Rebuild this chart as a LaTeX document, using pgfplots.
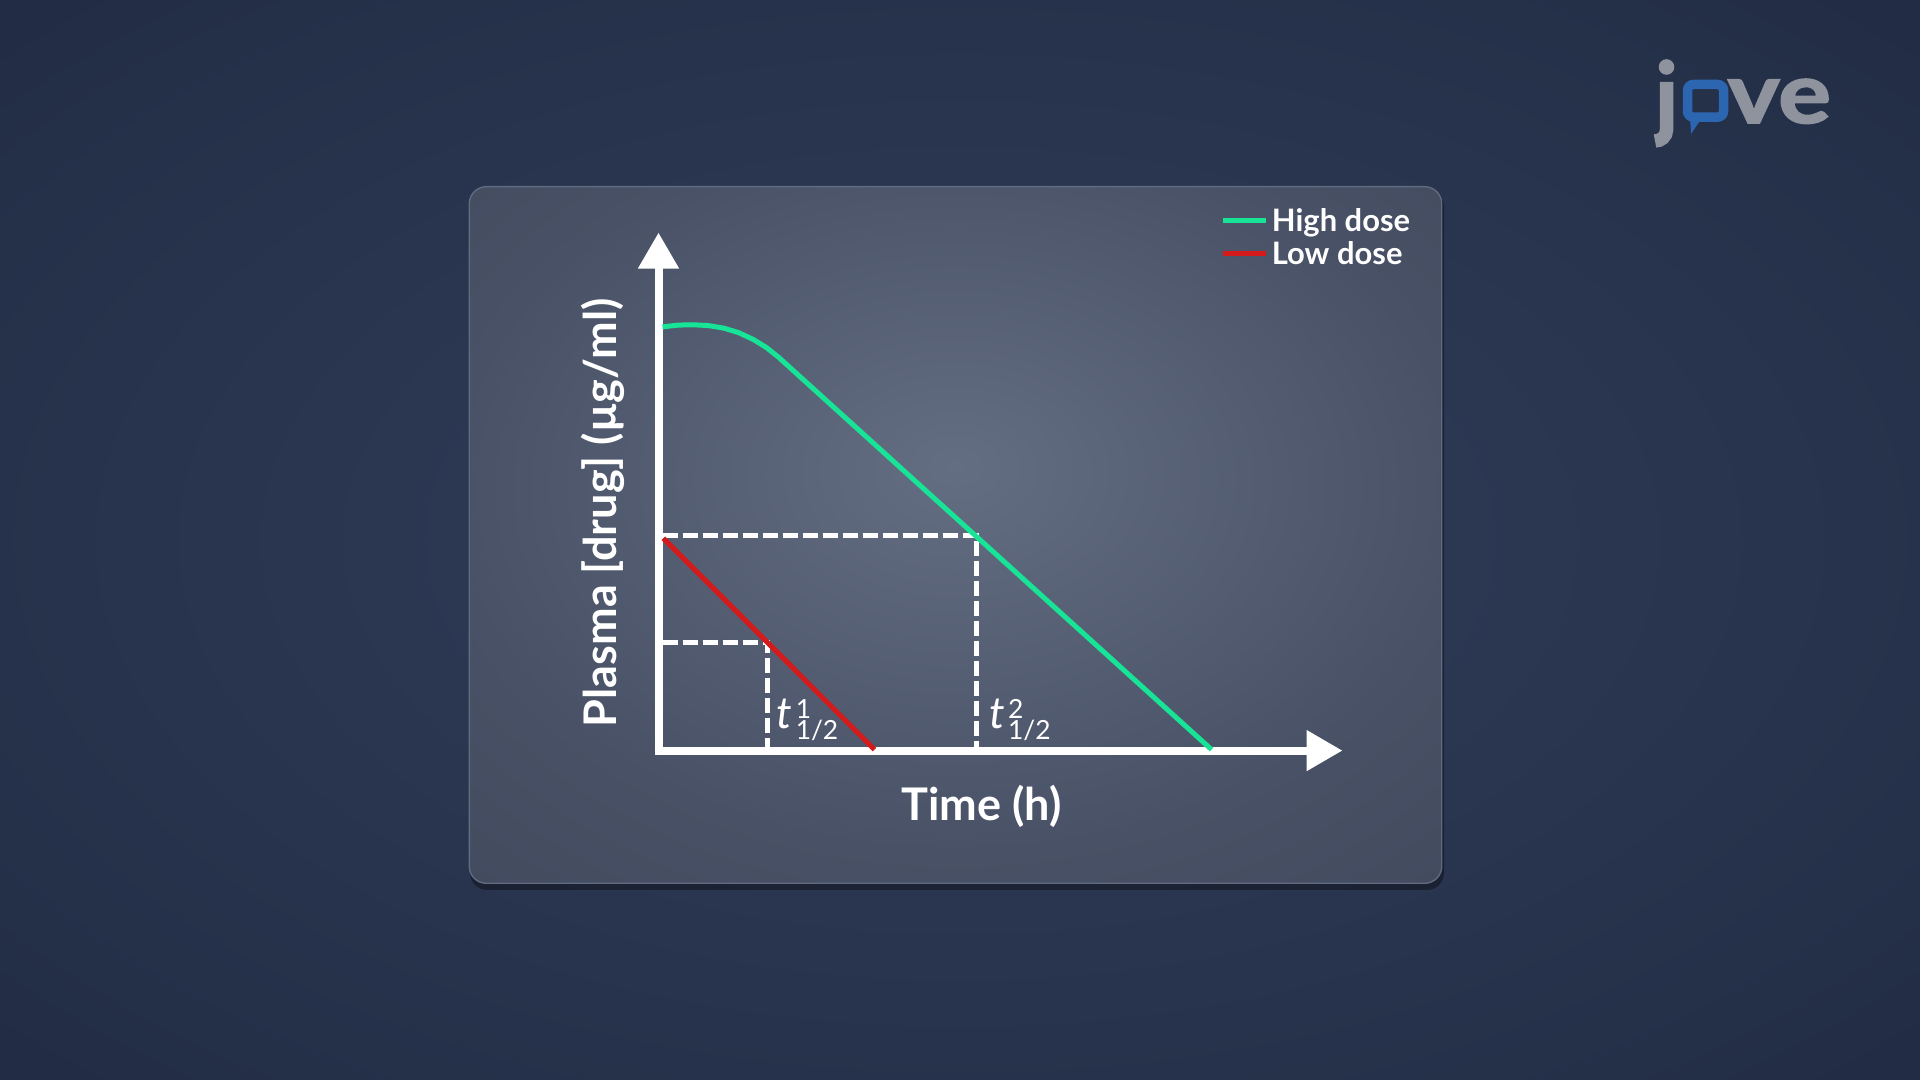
\documentclass[border=0pt]{standalone}
\usepackage{fontspec}
\setmainfont{Lato}
\newfontfamily\logofont[FakeBold=2]{Lato}
\usepackage{pgfplots}
\pgfplotsset{compat=1.18}
\usetikzlibrary{arrows.meta}

\definecolor{hidose}{RGB}{24,228,152}
\definecolor{lodose}{RGB}{212,26,26}
\definecolor{bgin}{RGB}{50,62,90}
\definecolor{bgmid}{RGB}{36,47,72}
\definecolor{bgout}{RGB}{18,24,40}
\definecolor{pin}{RGB}{100,110,130}
\definecolor{pmid}{RGB}{72,81,101}
\definecolor{pout}{RGB}{50,57,76}
\definecolor{pborder}{RGB}{96,106,128}
\definecolor{logogray}{RGB}{142,147,158}
\definecolor{logoblue}{RGB}{44,102,176}

\pgfdeclareradialshading{bgshade}{\pgfpoint{0bp}{0bp}}{color(0bp)=(bgin); color(30bp)=(bgmid); color(71bp)=(bgout)}
\pgfdeclareradialshading{panelshade}{\pgfpoint{0bp}{5bp}}{color(0bp)=(pin); color(26bp)=(pmid); color(71bp)=(pout)}

% t_{1/2} label with a superscript index
\newcommand{\thalf}[1]{{\fontsize{12.5}{14}\selectfont\itshape t}\kern0.35mm%
  \rlap{\raisebox{0.95mm}{\fontsize{7.5}{8}\selectfont #1}}%
  \raisebox{-1.15mm}{\fontsize{7.5}{8}\selectfont 1/2}}

\begin{document}
\begin{tikzpicture}
\path[use as bounding box] (0,0) rectangle (19.2,10.8);
\shade[shading=bgshade] (0,0) rectangle (19.2,10.8);

% panel
\fill[black, opacity=0.35, rounded corners=0.17cm] (4.70,1.90) rectangle (14.44,8.90);
\shade[shading=panelshade, rounded corners=0.17cm] (4.693,1.967) rectangle (14.417,8.933);
\draw[pborder, line width=0.4pt, rounded corners=0.17cm] (4.693,1.967) rectangle (14.417,8.933);

% logo
\fill[logogray] (16.665,10.13) circle (0.078);
\draw[logogray, line width=0.135cm] (16.665,9.98) -- (16.665,9.50) to[out=-90,in=0] (16.55,9.39);
\draw[logoblue, line width=0.095cm, rounded corners=0.06cm] (16.875,9.955) rectangle (17.235,9.628);
\fill[logoblue] (16.90,9.64) -- (17.03,9.64) -- (16.91,9.46) -- cycle;
\node[anchor=base west, inner sep=0pt, text=logogray] at (17.27,9.57)
  {\scalebox{1.17}[1]{\logofont\bfseries\fontsize{24}{26}\selectfont ve}};

\begin{axis}[
  at={(6.585cm,3.294cm)}, anchor=south west,
  scale only axis, x=1cm, y=1cm,
  xmin=0, xmax=6.84, ymin=0, ymax=5.18,
  axis lines=left,
  axis line style={white, line width=0.08cm, shorten <=-0.04cm, -{Triangle[length=3.6mm,width=3.9mm]}},
  xtick=\empty, ytick=\empty,
  clip=false,
  xlabel={Time (h)},
  ylabel={Plasma [drug] (µg/ml)},
  label style={font=\fontsize{12.8}{15}\selectfont\bfseries, text=white, inner sep=0pt},
  xlabel style={at={(axis description cs:0.4719,-0.1349)}, anchor=base},
  ylabel style={at={(axis description cs:-0.0621,0.4587)}, anchor=base},
  legend style={at={(0.8212,1.048)}, anchor=north west, draw=none, fill=none,
    inner sep=0pt, row sep=0pt, text=white,
    font=\fontsize{8.8}{10}\selectfont\bfseries,
    nodes={inner sep=0pt, text height=2.3mm, text depth=0.96mm},
    /tikz/every odd column/.append style={column sep=0.3mm}},
  legend cell align=left,
  legend image code/.code={\draw[#1] (0cm,0.04cm) -- (0.43cm,0.04cm);},
]
% half-life guides
\addplot[white, line width=0.05cm, dash pattern=on 0.15cm off 0.05cm, forget plot]
  coordinates {(0.04,2.155) (3.183,2.155) (3.183,0.04)};
\addplot[white, line width=0.05cm, dash pattern=on 0.15cm off 0.05cm, forget plot]
  coordinates {(0.04,1.081) (1.085,1.081) (1.085,0.04)};

\addplot[hidose, line width=0.05cm, line join=round] coordinates {
  (0.04,4.237) (0.2,4.255) (0.35,4.258) (0.5,4.25) (0.65,4.225)
  (0.8,4.18) (0.95,4.11) (1.08,4.03) (1.2,3.934) (5.53,0.01)
};
\addlegendentry{High dose}
\addplot[lodose, line width=0.05cm] coordinates {(0.048,2.123) (2.16,0.01)};
\addlegendentry{Low dose}

\node[anchor=base west, inner sep=0pt, text=white] at (axis cs:1.175,0.223) {\thalf{1}};
\node[anchor=base west, inner sep=0pt, text=white] at (axis cs:3.298,0.223) {\thalf{2}};
\end{axis}
\end{tikzpicture}
\end{document}
